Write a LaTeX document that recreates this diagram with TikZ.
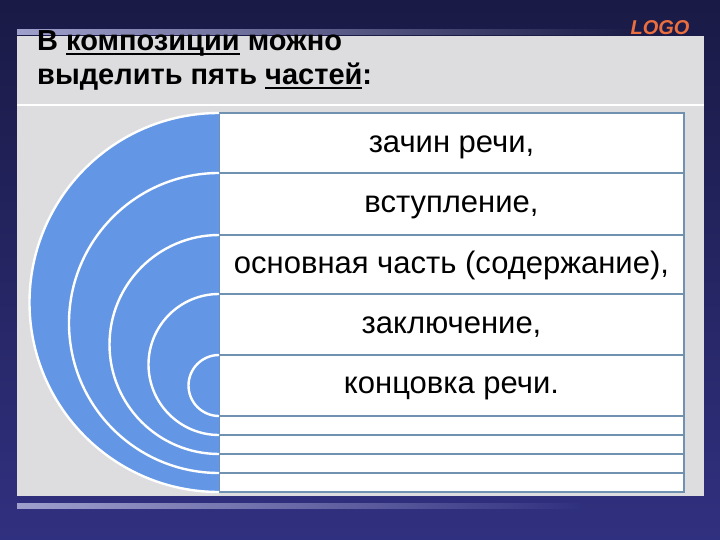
\documentclass[tikz,border=0pt]{standalone}
\usepackage{fontspec}
\setmainfont{Liberation Sans}
\definecolor{navytop}{RGB}{26,26,70}
\definecolor{navybot}{RGB}{48,48,128}
\definecolor{panelgray}{RGB}{221,221,223}
\definecolor{bandlav}{RGB}{160,160,205}
\definecolor{arcblue}{RGB}{99,150,229}
\definecolor{rowline}{RGB}{112,146,176}
\definecolor{logoorange}{RGB}{234,110,62}
\def\ulword#1{\setbox0\hbox{#1}\rlap{\rule[-4pt]{\wd0}{2.2pt}}\box0\relax}

\begin{document}
\begin{tikzpicture}[x=1pt,y=-1pt,
	arcrim/.style={draw=white, line width=2.4pt},
	rowbox/.style={fill=white, draw=rowline, line width=1.4pt},
	rowtext/.style={anchor=base, inner sep=0pt, font=\fontsize{31}{37}\selectfont},
	titletext/.style={anchor=base west, inner sep=0pt, font=\fontsize{29}{35}\selectfont\bfseries}]
		%%%%% START %%%%%
		
		\useasboundingbox (0,0) rectangle (720,540);
		\shade[top color=navytop, bottom color=navybot] (0,0) rectangle (720,540);
		
		\fill[panelgray] (17,36) rectangle (704,496);
		\draw[white, line width=1.5pt] (17,105) -- (704,105);
		\shade[left color=bandlav, middle color=bandlav, right color=navytop] (17,30) rectangle (640,35);
		\shade[left color=bandlav, middle color=bandlav, right color=navybot] (17,503) rectangle (580,508);
		
		% rows
		\foreach \ya/\yb in {113/173, 173/235, 235/294, 294/355, 355/416, 416/435, 435/454, 454/473, 473/492}
			\draw[rowbox] (219,\ya) rectangle (684,\yb);
		
		% half disks
		\foreach \cy/\r in {302.5/189.5, 323/150, 344.5/109.5, 364.5/70.5, 385.5/30.5} {
			\fill[arcblue] (219,\cy-\r) arc[start angle=270, end angle=90, radius=\r] -- cycle;
			\draw[arcrim] (219,\cy-\r) arc[start angle=270, end angle=90, radius=\r];
		}
		
		\node[rowtext] (zachin) at (451.5,153) {зачин речи,};
		\node[rowtext] (vstup) at (451.5,213) {вступление,};
		\node[rowtext] (osnova) at (451.5,273) {основная часть (содержание),};
		\node[rowtext] (zakl) at (451.5,333) {заключение,};
		\node[rowtext] (koncovka) at (451.5,393) {концовка речи.};
		
		\node[titletext] (titleA) at (37,51) {В \ulword{композиции} можно};
		\node[titletext] (titleB) at (37,85) {выделить пять \ulword{частей}:};
		
		\node[font=\fontsize{20}{24}\selectfont\bfseries\itshape, text=logoorange] (logo) at (660,28) {LOGO};
		
		%%%%% END %%%%%
\end{tikzpicture}
\end{document}
